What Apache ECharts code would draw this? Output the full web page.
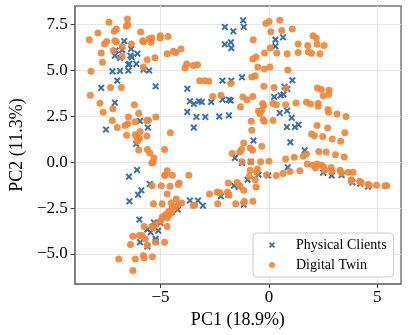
<!DOCTYPE html>
<html>
<head>
<meta charset="utf-8">
<script src="https://cdn.jsdelivr.net/npm/echarts@6/dist/echarts.min.js"></script>
<style>
html,body{margin:0;padding:0;background:#fff;}
#chart{width:409px;height:335px;}
</style>
</head>
<body>
<div id="chart"></div>
<script>
// ---- data ----
const seriesNames = ['Physical Clients', 'Digital Twin'];
const xTickValues = [-5, 0, 5];
const yTickValues = [-5, -2.5, 0, 2.5, 5, 7.5];
const xTitle = 'PC1 (18.9%)';
const yTitle = 'PC2 (11.3%)';

const physicalPC1 = [
-6.67,-7.07,-6.76,-6.35,-7.10,-6.85,-6.38,-6.32,-6.06,-6.48,
-6.43,-6.11,-7.21,-6.86,-6.48,-5.78,-5.52,-6.99,-7.73,-5.22,
-1.19,-1.16,-2.03,-1.64,-1.75,-1.73,-2.03,0.30,0.30,-1.24,
-2.14,-1.73,-3.76,0.24,0.54,0.67,0.72,0.85,1.08,0.65,
-7.10,-5.94,-5.58,-7.51,-6.12,-6.08,-6.45,-5.49,-5.88,-6.03,
-3.64,-3.46,-3.22,-3.09,-2.66,-2.14,-1.84,-1.76,-3.76,-3.34,
-2.93,-2.29,-1.84,-3.46,0.50,-0.71,-1.57,-1.24,-0.83,-0.98,
-0.48,-0.03,-1.61,-1.39,-2.21,-1.87,
0.84,1.05,0.83,1.20,1.37,0.99,1.65,0.87,2.50,2.90,3.35,3.85,4.21,4.57,
-6.43,-4.20,-5.97,-5.30,-5.00,-5.60,-5.45,-5.10,-5.94,-5.60,-5.22,-5.22,-3.64,-3.27,-3.04,-1.16
];
const physicalPC2 = [
6.61,6.10,6.12,6.18,5.81,5.69,5.81,5.72,5.92,5.32,
5.36,5.36,4.96,4.98,5.00,5.05,5.00,4.45,4.05,4.14,
7.74,7.38,7.38,7.14,6.54,6.23,6.43,6.68,6.32,4.63,
4.45,4.45,4.01,3.56,3.65,3.69,4.11,3.99,4.47,6.81,
3.25,2.25,1.89,1.78,1.00,-0.42,-0.79,-1.18,-1.53,-1.77,
3.32,3.18,3.32,3.29,3.29,3.41,3.41,3.36,2.74,2.47,
2.47,2.50,2.56,1.89,2.69,1.18,0.23,-0.04,0.02,-0.95,
-0.68,-0.73,-1.28,-1.35,-1.86,-1.77,
2.81,2.42,1.92,1.92,2.05,1.09,0.65,-0.28,-0.57,-0.73,-0.70,-1.11,-1.17,-1.33,
-2.13,-2.58,-3.13,-3.28,-3.31,-3.67,-3.82,-3.73,-4.37,-4.59,-4.18,-4.31,-2.09,-2.09,-2.37,-2.31
];

const twinPC1 = [
-6.52,-7.37,-6.50,-6.57,-7.88,-7.03,-7.13,-5.91,-8.28,-7.48,
-7.58,-7.10,-7.03,-6.34,-5.82,-5.78,-5.52,-5.40,-5.43,-5.00,
-5.01,-4.65,-7.17,-7.73,-6.76,-6.77,-4.69,-4.40,-4.29,-7.67,
-5.61,-5.25,-5.79,-8.20,-7.30,-6.80,-8.23,
-0.14,0.01,0.50,0.09,0.59,-0.72,-4.05,-0.20,0.36,0.06,
-0.74,-0.59,-3.79,-3.87,-3.49,-3.29,-0.51,-0.20,0.05,-0.79,
-0.63,-3.19,-2.96,-2.77,-1.76,-0.23,0.24,-2.59,-2.21,-1.20,
-0.74,0.84,0.87,
1.08,2.03,2.18,1.35,1.79,2.22,2.55,1.35,1.82,1.97,2.35,0.79,2.24,2.42,2.77,2.75,2.50,
-7.79,-6.20,-7.64,-7.19,-6.00,-6.47,-5.21,-7.22,-6.17,-5.63,
-5.55,-6.50,-6.63,-6.99,-5.94,-4.54,-6.56,-6.16,-6.09,-5.63,
-5.97,-6.06,-6.00,-5.60,-5.49,-4.81,-5.30,-5.34,-5.40,-4.69,
-4.81,-4.77,-4.45,-4.14,-4.17,-5.39,-4.96,-4.56,-4.69,-4.27,
-1.31,-1.01,-0.29,-0.23,0.19,0.34,0.77,-0.48,-0.33,-0.41,
-0.81,-0.26,-0.21,0.19,-0.79,-1.16,-0.33,-0.86,-0.75,-1.26,
-1.35,-1.69,-1.24,-0.83,-0.38,0.00,0.77,-0.86,-0.53,-0.56,
-0.11,-0.90,0.34,0.65,-3.69,-1.87,-1.46,-1.34,-1.16,-0.63,
-0.59,-2.39,-2.27,-1.91,-1.84,-2.74,
1.25,1.73,1.92,2.27,2.27,2.72,2.75,3.14,3.55,2.22,
2.71,3.50,1.97,2.10,2.48,2.92,3.31,2.30,2.64,3.07,
3.47,1.73,1.17,1.58,1.77,2.03,2.22,2.42,2.53,2.15,
2.57,2.87,2.90,3.28,3.35,3.66,3.88,0.97,1.43,3.80,
3.80,4.18,4.26,4.58,4.63,4.96,5.35,5.43,
-5.32,-4.92,-4.50,-4.47,-4.62,-4.47,-4.77,-4.92,-4.69,-4.62,
-5.00,-5.22,-5.40,-5.34,-4.69,-5.75,-5.97,-5.85,-5.70,-6.27,
-5.60,-5.22,-4.81,-6.38,-5.79,-5.75,-5.37,-6.16,-6.92,-6.27,
-4.32,-4.17,-4.02,-3.49,-3.42,-2.36,-1.53,-1.16,-1.13,-0.74
];
const twinPC2 = [
7.81,7.63,7.50,7.41,7.05,7.27,7.14,7.10,6.68,6.59,
6.45,6.63,6.56,6.45,6.63,6.56,6.74,6.78,6.54,6.90,
6.78,6.86,6.09,5.96,6.29,5.77,5.92,6.05,5.99,5.45,
5.59,5.70,5.20,4.96,4.07,4.08,3.65,
7.57,7.68,7.74,7.12,7.19,6.68,6.18,5.96,5.96,6.23,
5.63,5.74,5.36,5.14,5.27,5.32,5.20,5.09,5.20,4.65,
4.72,4.45,4.45,4.41,4.29,4.14,4.08,3.59,3.65,3.56,
3.59,5.92,5.03,
7.27,6.90,6.78,6.45,6.37,6.43,6.37,5.98,6.01,5.94,5.91,4.05,4.05,3.97,3.92,3.69,3.63,
3.21,3.14,2.72,2.92,2.67,2.47,2.47,2.28,2.21,2.28,
2.28,2.10,2.00,1.89,1.67,1.61,1.47,1.50,1.41,1.43,
1.29,1.14,0.67,0.69,0.51,0.69,0.23,-0.01,-0.04,-0.46,
-0.73,-0.69,-0.71,-1.13,-1.22,-1.28,-1.28,-1.31,-1.73,-2.00,
3.02,3.41,3.20,3.10,3.20,3.14,3.14,2.78,2.83,2.65,
2.23,2.32,2.23,2.28,1.74,1.05,0.87,0.78,0.65,0.69,
0.56,0.47,0.02,0.02,0.02,0.05,0.18,-0.44,-0.37,-0.55,
-0.68,-0.77,-0.73,-0.62,-0.71,-1.13,-1.10,-1.28,-1.53,-0.95,
-1.35,-1.62,-1.67,-1.64,-1.80,-1.73,
3.23,3.27,3.18,3.20,3.05,2.87,2.72,2.63,2.50,2.01,
1.87,1.61,1.54,1.45,1.40,1.27,1.14,0.58,0.56,0.41,
0.29,0.45,0.27,0.32,-0.09,-0.15,-0.09,-0.15,-0.26,-0.31,
-0.44,-0.29,-0.50,-0.44,-0.58,-0.55,-0.55,-0.50,-0.46,-0.95,
-1.04,-1.04,-1.10,-1.22,-1.26,-1.26,-1.28,-1.28,
-2.26,-2.26,-2.22,-2.49,-2.68,-2.76,-2.86,-2.98,-3.04,-2.91,
-3.22,-3.40,-3.50,-3.58,-3.50,-3.50,-4.00,-4.00,-4.18,-4.04,
-4.53,-4.37,-4.37,-4.49,-5.09,-5.22,-5.16,-5.27,-5.27,-5.91,
-2.46,-2.31,-2.22,-2.35,-2.35,-2.26,-2.26,-2.19,-2.13,-2.13
];

// ---- styling ----
const BLUE = '#3a6fb2';
const ORANGE = '#f0873a';
const FONT = '"Liberation Serif", "Times New Roman", serif';
const crossPath = 'path://M2,0L5,3L8,0L10,2L7,5L10,8L8,10L5,7L2,10L0,8L3,5L0,2Z';
const minus = s => String(s).replace('-', '\u2212');

function zip(a, b) { return a.map((v, i) => [v, b[i]]); }

const chart = echarts.init(document.getElementById('chart'), null, {renderer: 'canvas'});
const axisCommon = {
  type: 'value',
  axisLine: {show: true, onZero: false, lineStyle: {color: '#7a7a7a', width: 1.5}},
  axisTick: {show: true, inside: false, length: 4, lineStyle: {color: '#333', width: 1}},
  splitLine: {show: true, lineStyle: {color: '#e6e6e6', width: 1}},
  nameLocation: 'middle',
  nameTextStyle: {fontFamily: FONT, fontSize: 18, color: '#000'}
};
chart.setOption({
  animation: false,
  backgroundColor: '#fff',
  grid: {left: 67, right: 8, top: 6, bottom: 51, show: true, borderColor: '#7a7a7a', borderWidth: 1.5, containLabel: false},
  xAxis: Object.assign({}, axisCommon, {
    min: -8.95, max: 6.09,
    name: xTitle, nameGap: 24,
    axisTick: Object.assign({}, axisCommon.axisTick, {customValues: xTickValues}),
    axisLabel: {customValues: xTickValues, margin: 5, fontFamily: FONT, fontSize: 17, color: '#000', formatter: v => minus(v)}
  }),
  yAxis: Object.assign({}, axisCommon, {
    min: -6.64, max: 8.52,
    name: yTitle, nameGap: 43, nameRotate: 90,
    axisTick: Object.assign({}, axisCommon.axisTick, {customValues: yTickValues}),
    axisLabel: {customValues: yTickValues, margin: 7, fontFamily: FONT, fontSize: 17, color: '#000', formatter: v => minus(Number(v).toFixed(1))}
  }),
  legend: {
    orient: 'vertical', left: 253, top: 233,
    padding: [4, 7, 4, 16], itemGap: 4, itemWidth: 6, itemHeight: 6,
    backgroundColor: 'rgba(255,255,255,0.85)', borderColor: '#cccccc', borderWidth: 1, borderRadius: 4,
    textStyle: {fontFamily: FONT, fontSize: 14, color: '#000', lineHeight: 16, padding: [0, 0, 0, 16]},
    data: [
      {name: seriesNames[0], icon: crossPath, itemStyle: {color: BLUE}},
      {name: seriesNames[1], icon: 'circle', itemStyle: {color: ORANGE}}
    ]
  },
  series: [
    {
      name: seriesNames[0], type: 'scatter', symbol: crossPath, symbolSize: 7,
      itemStyle: {color: BLUE, opacity: 1}, data: zip(physicalPC1, physicalPC2), z: 2
    },
    {
      name: seriesNames[1], type: 'scatter', symbol: 'circle', symbolSize: 7,
      itemStyle: {color: ORANGE, opacity: 0.92}, data: zip(twinPC1, twinPC2), z: 3
    }
  ]
});
</script>
</body>
</html>
